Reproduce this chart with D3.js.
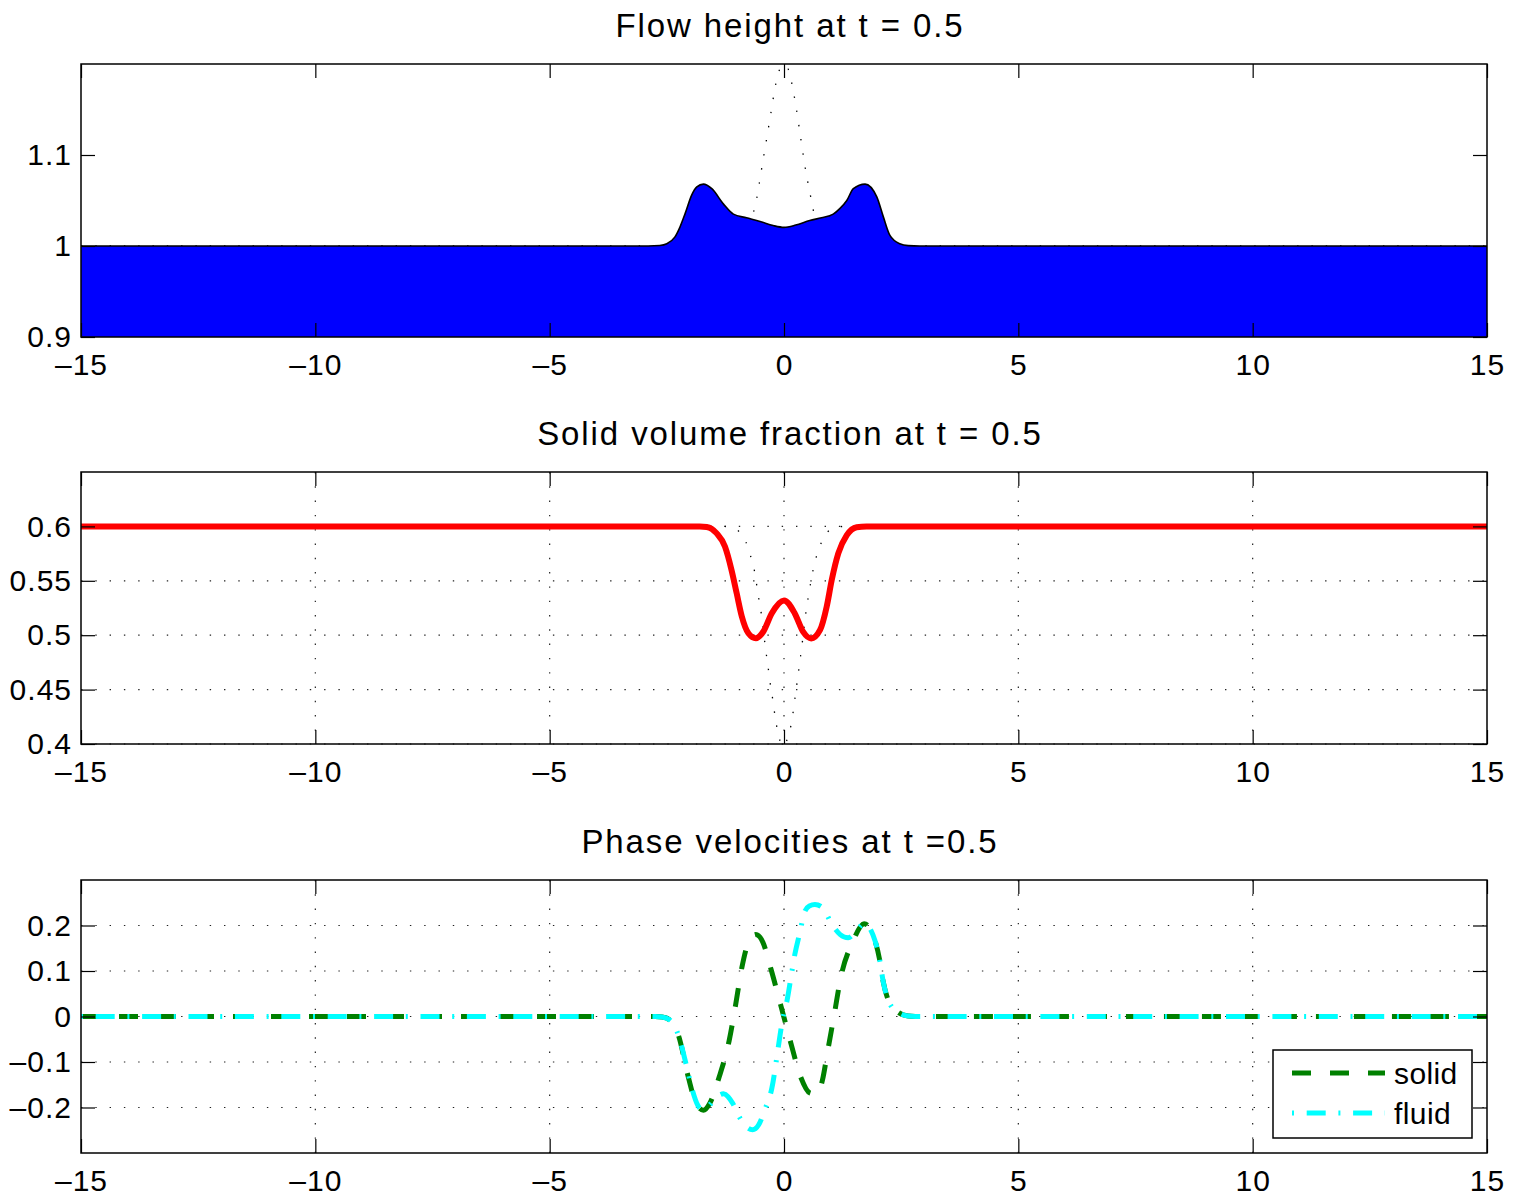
<!DOCTYPE html>
<html>
<head>
<meta charset="utf-8">
<script src="https://cdn.jsdelivr.net/npm/d3@7"></script>
<style>
body { margin: 0; background: #fff; }
svg text { font-family: "Liberation Sans", Arial, Helvetica, sans-serif; fill: #000; }
</style>
</head>
<body>
<div id="chart"></div>
<script>
// ---- data ----
var xTicks = [-15, -10, -5, 0, 5, 10, 15];
var hTicks = [0.9, 1, 1.1];
var phiTicks = [0.4, 0.45, 0.5, 0.55, 0.6];
var velTicks = [-0.2, -0.1, 0, 0.1, 0.2];

var titles = ["Flow height at t = 0.5", "Solid volume fraction at t = 0.5", "Phase velocities at t =0.5"];
var legendLabels = ["solid", "fluid"];

// flow height h(x) at t = 0.5
var heightData = [[-15,1],[-2.9,1],[-2.65,1.0005],[-2.5,1.0024],[-2.33,1.0097],[-2.22,1.0208],[-2.11,1.0356],[-1.97,1.056],[-1.86,1.065],[-1.72,1.068],[-1.54,1.063],[-1.29,1.046],[-1.08,1.035],[-0.80,1.031],[-0.51,1.027],[-0.23,1.0225],[0,1.0205],[0.25,1.023],[0.55,1.028],[0.80,1.031],[1.05,1.035],[1.19,1.041],[1.34,1.050],[1.48,1.063],[1.73,1.068],[1.98,1.054],[2.12,1.032],[2.26,1.0116],[2.47,1.0024],[2.65,1.0004],[2.9,1],[15,1]];
// initial height (dotted)
var heightInit = [[-15,1],[-0.80,1],[-0.65,1.037],[-0.58,1.053],[-0.48,1.084],[-0.38,1.115],[-0.28,1.146],[-0.18,1.177],[-0.11,1.192],[0,1.199],[0.06,1.1976],[0.15,1.1825],[0.26,1.152],[0.35,1.121],[0.44,1.090],[0.55,1.059],[0.61,1.044],[0.76,1],[15,1]];

// solid volume fraction
var phiData = [[-15,0.6],[-1.8,0.6],[-1.65,0.5995],[-1.44,0.5938],[-1.26,0.5815],[-1.12,0.56],[-1.01,0.5386],[-0.90,0.5172],[-0.76,0.5018],[-0.60,0.4972],[-0.44,0.5034],[-0.26,0.5202],[0,0.532],[0.23,0.52],[0.41,0.503],[0.58,0.497],[0.77,0.5048],[0.91,0.526],[1.02,0.551],[1.16,0.5754],[1.34,0.592],[1.55,0.5993],[1.76,0.6],[15,0.6]];
var phiInit = [[-15,0.6],[-1.3,0.6],[-1.12,0.599],[-0.89,0.5916],[-0.76,0.5796],[-0.68,0.5674],[-0.61,0.5545],[-0.57,0.5422],[-0.52,0.5287],[-0.47,0.5159],[-0.40,0.49],[-0.36,0.477],[-0.32,0.4644],[-0.28,0.4512],[-0.23,0.4383],[-0.19,0.425],[-0.14,0.4128],[-0.02,0.398],[0.10,0.409],[0.17,0.422],[0.21,0.4343],[0.25,0.4475],[0.29,0.46],[0.33,0.4733],[0.37,0.4862],[0.48,0.525],[0.53,0.538],[0.58,0.5508],[0.64,0.5637],[0.72,0.5763],[0.83,0.5882],[1.04,0.5983],[1.3,0.6],[15,0.6]];

// phase velocities
var solidVel = [[-15,0],[-2.75,0],[-2.6,-0.001],[-2.43,-0.008],[-2.25,-0.042],[-2.04,-0.134],[-1.88,-0.19],[-1.72,-0.206],[-1.58,-0.19],[-1.39,-0.135],[-1.17,-0.053],[-1.03,0.027],[-0.90,0.107],[-0.75,0.165],[-0.60,0.180],[-0.45,0.163],[-0.28,0.105],[-0.07,0.025],[0.14,-0.056],[0.36,-0.134],[0.55,-0.168],[0.71,-0.171],[0.82,-0.14],[0.93,-0.077],[1.07,0.003],[1.21,0.085],[1.47,0.165],[1.71,0.204],[1.90,0.179],[2.04,0.125],[2.12,0.075],[2.26,0.028],[2.44,0.009],[2.65,0.001],[2.8,0],[15,0]];
var fluidVel = [[-15,0],[-2.75,0],[-2.6,-0.001],[-2.43,-0.008],[-2.25,-0.042],[-2.10,-0.10],[-1.96,-0.16],[-1.84,-0.195],[-1.74,-0.205],[-1.62,-0.198],[-1.45,-0.178],[-1.29,-0.170],[-1.10,-0.190],[-0.94,-0.223],[-0.80,-0.243],[-0.67,-0.249],[-0.54,-0.238],[-0.41,-0.205],[-0.26,-0.158],[-0.11,-0.059],[-0.04,-0.012],[0.07,0.038],[0.15,0.087],[0.23,0.136],[0.34,0.185],[0.44,0.230],[0.54,0.243],[0.66,0.246],[0.80,0.241],[1.05,0.198],[1.20,0.180],[1.37,0.173],[1.52,0.185],[1.71,0.204],[1.90,0.179],[2.04,0.125],[2.12,0.075],[2.26,0.028],[2.44,0.009],[2.65,0.001],[2.8,0],[15,0]];

// ---- layout ----
var W = 1518, H = 1197;
var left = 81, right = 1487;
var fontSize = 30;

var svg = d3.select("#chart").append("svg")
    .attr("width", W)
    .attr("height", H);

var x = d3.scaleLinear().domain([-15, 15]).range([left, right]);

var fmt = function (d) { return d3.format("")(d).replace("-", "\u2013").replace("\u2212", "\u2013"); };

function makePanel(idx, top, bottom, yDomain, yTicks, grid) {
    var y = d3.scaleLinear().domain(yDomain).range([bottom, top]);
    var g = svg.append("g");

    var clipId = "clip" + idx;
    svg.append("clipPath").attr("id", clipId)
        .append("rect")
        .attr("x", left).attr("y", top)
        .attr("width", right - left).attr("height", bottom - top);

    if (grid) {
        var gg = g.append("g").attr("class", "grid");
        gg.selectAll("line.gx").data(xTicks.slice(1, -1)).join("line")
            .attr("x1", d => x(d)).attr("x2", d => x(d))
            .attr("y1", top).attr("y2", bottom);
        gg.selectAll("line.gy").data(yTicks).join("line")
            .attr("x1", left).attr("x2", right)
            .attr("y1", d => y(d)).attr("y2", d => y(d));
        gg.selectAll("line")
            .attr("stroke", "#222")
            .attr("stroke-width", 1.2)
            .attr("stroke-dasharray", "1.4,12.9");
    }

    var plot = g.append("g").attr("clip-path", "url(#" + clipId + ")");

    // axes, ticks pointing inward on all four sides
    g.append("g").attr("transform", "translate(0," + bottom + ")")
        .call(d3.axisBottom(x).tickValues(xTicks).tickSizeInner(-14).tickSizeOuter(0).tickPadding(17).tickFormat(fmt));
    g.append("g").attr("transform", "translate(0," + top + ")")
        .call(d3.axisTop(x).tickValues(xTicks).tickSizeInner(-14).tickSizeOuter(0).tickFormat(""));
    g.append("g").attr("transform", "translate(" + left + ",0)")
        .call(d3.axisLeft(y).tickValues(yTicks).tickSizeInner(-14).tickSizeOuter(0).tickPadding(9).tickFormat(fmt));
    g.append("g").attr("transform", "translate(" + right + ",0)")
        .call(d3.axisRight(y).tickValues(yTicks).tickSizeInner(-14).tickSizeOuter(0).tickFormat(""));

    g.selectAll(".domain").remove();
    g.selectAll(".tick line").attr("stroke", "#000").attr("stroke-width", 1.2);
    g.selectAll(".tick text")
        .attr("font-size", fontSize)
        .attr("letter-spacing", 1)
        .style("font-family", "Liberation Sans, Arial, sans-serif");

    g.append("rect")
        .attr("x", left).attr("y", top)
        .attr("width", right - left).attr("height", bottom - top)
        .attr("fill", "none").attr("stroke", "#000").attr("stroke-width", 1.5);

    svg.append("text")
        .attr("x", 790)
        .attr("y", top - 27)
        .attr("text-anchor", "middle")
        .attr("font-size", 33)
        .attr("letter-spacing", 1.9)
        .text(titles[idx]);

    return { g: g, plot: plot, y: y };
}

// ---- panel 1: flow height ----
var p1 = makePanel(0, 64, 337, [0.9, 1.2], hTicks, false);
p1.plot.append("path")
    .datum(heightInit)
    .attr("fill", "none")
    .attr("stroke", "#000")
    .attr("stroke-width", 1.3)
    .attr("stroke-dasharray", "1.4,12.9")
    .attr("d", d3.line().x(d => x(d[0])).y(d => p1.y(d[1])).curve(d3.curveMonotoneX));
p1.plot.append("path")
    .datum(heightData)
    .attr("fill", "#0000ff")
    .attr("d", d3.area().x(d => x(d[0])).y0(p1.y(0.9)).y1(d => p1.y(d[1])).curve(d3.curveMonotoneX));
p1.plot.append("path")
    .datum(heightData)
    .attr("fill", "none")
    .attr("stroke", "#000")
    .attr("stroke-width", 1.6)
    .attr("d", d3.line().x(d => x(d[0])).y(d => p1.y(d[1])).curve(d3.curveMonotoneX));

// ---- panel 2: solid volume fraction ----
var p2 = makePanel(1, 472, 744, [0.4, 0.65], phiTicks, true);
p2.plot.append("path")
    .datum(phiInit)
    .attr("fill", "none")
    .attr("stroke", "#000")
    .attr("stroke-width", 1.3)
    .attr("stroke-dasharray", "1.4,12.9")
    .attr("d", d3.line().x(d => x(d[0])).y(d => p2.y(d[1])).curve(d3.curveMonotoneX));
p2.plot.append("path")
    .datum(phiData)
    .attr("fill", "none")
    .attr("stroke", "#ff0000")
    .attr("stroke-width", 6)
    .attr("d", d3.line().x(d => x(d[0])).y(d => p2.y(d[1])).curve(d3.curveMonotoneX));

// ---- panel 3: phase velocities ----
var p3 = makePanel(2, 880, 1153, [-0.3, 0.3], velTicks, true);
var velLine = d3.line().x(d => x(d[0])).y(d => p3.y(d[1])).curve(d3.curveMonotoneX);
var series = [
    { data: solidVel, color: "#008000", dash: "19,19" },
    { data: fluidVel, color: "#00ffff", dash: "2,12.7,19,12.7" }
];
series.forEach(function (s) {
    p3.plot.append("path")
        .datum(s.data)
        .attr("fill", "none")
        .attr("stroke", s.color)
        .attr("stroke-width", 5)
        .attr("stroke-dasharray", s.dash)
        .attr("d", velLine);
});

// legend
var lg = svg.append("g");
lg.append("rect")
    .attr("x", 1273).attr("y", 1050)
    .attr("width", 199).attr("height", 88)
    .attr("fill", "#fff").attr("stroke", "#000").attr("stroke-width", 1.5);
series.forEach(function (s, i) {
    var ly = 1073 + i * 40;
    lg.append("line")
        .attr("x1", 1292).attr("x2", 1385)
        .attr("y1", ly).attr("y2", ly)
        .attr("stroke", s.color)
        .attr("stroke-width", 5)
        .attr("stroke-dasharray", s.dash);
    lg.append("text")
        .attr("x", 1394).attr("y", ly + 11)
        .attr("font-size", 30)
        .attr("letter-spacing", 0.4)
        .text(legendLabels[i]);
});
</script>
</body>
</html>
